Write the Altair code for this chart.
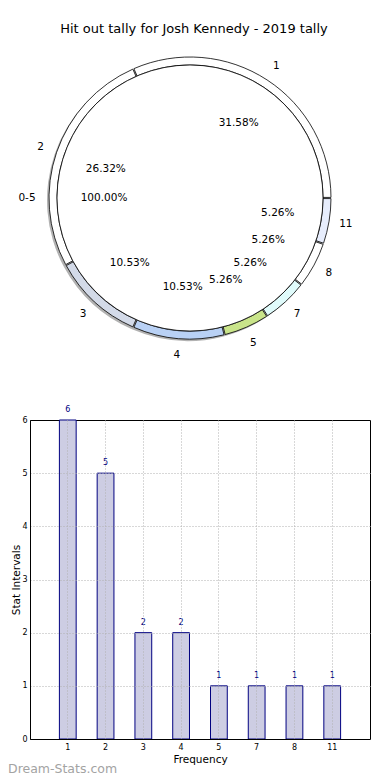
import math
import altair as alt
import pandas as pd

# ---- data ----
categories = ["1", "2", "3", "4", "5", "7", "8", "11"]
counts = [6, 5, 2, 2, 1, 1, 1, 1]
inner_label = "0-5"
y_ticks = [0, 1, 2, 3, 4, 5, 6]
title_text = "Hit out tally for Josh Kennedy - 2019 tally"
watermark = "Dream-Stats.com"

# ---- styles ----
ring_colors = ["#ffffff", "#ffffff", "#d3dae8", "#b9d1f5", "#c9e48a",
               "#e0fbfb", "#ffffff", "#e7edfc"]
FONT = "DejaVu Sans"

total = sum(counts)
cum = pd.Series(counts).cumsum()
ring = pd.DataFrame({"cat": categories, "n": counts})
ring["t1"] = cum
ring["t0"] = cum - ring["n"]
ring["tm"] = (ring["t0"] + ring["t1"]) / 2
ring["pct"] = [f"{100 * n / total:.2f}%" for n in counts]
ring["color"] = ring_colors

inner = pd.DataFrame({"cat": [inner_label], "t0": [0], "t1": [total],
                      "tm": [total / 2], "pct": [f"{100 * total / total:.2f}%"]})

W, H = 340, 319
OX = 30                      # expected page x of the plot origin
CX, CY = 190 - OX, -222      # pie centre relative to the bar plot origin
R_IN, R_OUT = 133, 141

theta_scale = alt.Scale(domain=[0, total], range=[math.pi / 2, math.pi / 2 - 2 * math.pi])


def th(field):
    return alt.Theta(f"{field}:Q", scale=theta_scale, stack=False)


inner_shadow = alt.Chart(inner).mark_arc(radius=R_IN, fill="#000000", fillOpacity=0.3).encode(
    theta=th("t0"), theta2="t1:Q", x=alt.value(CX - 2), y=alt.value(CY + 2))
ring_shadow = alt.Chart(ring).mark_arc(radius=R_OUT, radius2=R_IN, fill="#000000", fillOpacity=0.3).encode(
    theta=th("t0"), theta2="t1:Q", x=alt.value(CX - 2), y=alt.value(CY + 2))
ring_arcs = alt.Chart(ring).mark_arc(radius=R_OUT, radius2=R_IN, stroke="#000000", strokeWidth=0.8,
                                     padAngle=0.006).encode(
    theta=th("t0"), theta2="t1:Q", color=alt.Color("color:N", scale=None),
    x=alt.value(CX), y=alt.value(CY))
inner_arc = alt.Chart(inner).mark_arc(radius=R_IN, fill="#ffffff", stroke="#000000", strokeWidth=0.8).encode(
    theta=th("t0"), theta2="t1:Q", x=alt.value(CX), y=alt.value(CY))

pct_text = alt.Chart(ring).mark_text(radius=89, fontSize=10.5, font=FONT, color="#000000").encode(
    theta=th("tm"), text="pct:N", x=alt.value(CX), y=alt.value(CY))
cat_text = alt.Chart(ring).mark_text(radius=158, fontSize=10.5, font=FONT, color="#000000").encode(
    theta=th("tm"), text="cat:N", x=alt.value(CX), y=alt.value(CY))
inner_pct = alt.Chart(inner).mark_text(radius=86, fontSize=10.5, font=FONT, color="#000000").encode(
    theta=th("tm"), text="pct:N", x=alt.value(CX), y=alt.value(CY))
inner_cat = alt.Chart(inner).mark_text(radius=163, fontSize=10.5, font=FONT, color="#000000").encode(
    theta=th("tm"), text="cat:N", x=alt.value(CX), y=alt.value(CY))

title = alt.Chart(inner).mark_text(fontSize=13, font=FONT, color="#000000").encode(
    text=alt.value(title_text), x=alt.value(194 - OX), y=alt.value(-391))
wm = alt.Chart(inner).mark_text(fontSize=12.5, font=FONT, color="#a3a3a3", align="left").encode(
    text=alt.value(watermark), x=alt.value(8 - OX), y=alt.value(349))

grid_top_off = {"condition": {"test": f"datum.value == {max(y_ticks)}", "value": 0}, "value": 1}

x_enc = alt.X("cat:N", sort=categories,
              scale=alt.Scale(paddingInner=0.556, paddingOuter=0.778),
              axis=alt.Axis(title="Frequency", labelAngle=0, ticks=False, grid=True,
                            gridDash=[1, 2], gridColor="#b0b0b0", bandPosition=0.5,
                            labelFontSize=8, labelPadding=4, labelColor="#000000",
                            titleFontSize=10.5, titlePadding=3, titleFontWeight="normal",
                            titleColor="#000000", domainColor="#000000", zindex=1))
y_enc = alt.Y("n:Q", scale=alt.Scale(domain=[0, 6], nice=False),
              axis=alt.Axis(title="Stat Intervals", values=y_ticks, ticks=False, grid=True,
                            gridDash=[1, 2], gridColor="#b0b0b0", gridOpacity=grid_top_off,
                            labelFontSize=8, labelPadding=3, labelColor="#000000",
                            titleFontSize=10.5, titleFontWeight="normal", titleColor="#000000",
                            titleX=-9, domainColor="#000000", zindex=1))

bars = alt.Chart(ring).mark_bar(fill="#cdcde3", stroke="#000080", strokeWidth=1).encode(
    x=x_enc, y=y_enc)
bar_text = alt.Chart(ring).mark_text(fontSize=8, font=FONT, color="#000080", dy=-10).encode(
    x=alt.X("cat:N", sort=categories), y="n:Q", text="n:Q")

chart = alt.layer(
    bars, bar_text,
    inner_shadow, ring_shadow, ring_arcs, inner_arc,
    pct_text, cat_text, inner_pct, inner_cat, title, wm,
).properties(
    width=W, height=H,
    padding={"left": 0, "top": 15, "right": 5, "bottom": 2},
).configure(font=FONT).configure_view(stroke="#000000", strokeWidth=1)

chart.save("out.html", embed_options={"renderer": "svg", "actions": False})
